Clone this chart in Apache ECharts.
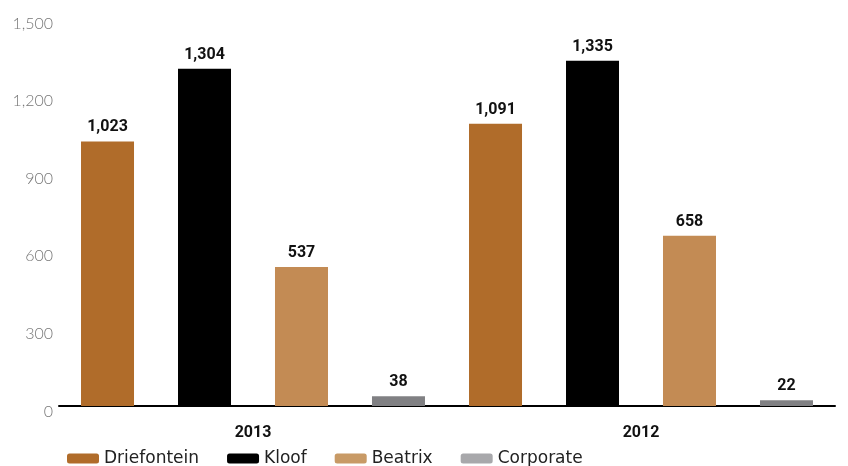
<!DOCTYPE html>
<html><head><meta charset="utf-8">
<script src="https://cdn.jsdelivr.net/npm/echarts@6/dist/echarts.min.js"></script>
<style>html,body{margin:0;padding:0;background:#fff}#c{width:848px;height:466px}</style>
</head><body><div id="c"></div>
<script>
const categories = ['2013', '2012'];
const seriesNames = ['Driefontein', 'Kloof', 'Beatrix', 'Corporate'];
const driefontein = [1023, 1091];
const kloof = [1304, 1335];
const beatrix = [537, 658];
const corporate = [38, 22];
const yTicks = [0, 300, 600, 900, 1200, 1500];

const colors = ['#B06C2A', '#000000', '#C38B54', '#808083'];
const legendColors = ['#B06C2A', '#000000', '#C89A66', '#A8A8AB'];
const values = [driefontein, kloof, beatrix, corporate];

const chart = echarts.init(document.getElementById('c'));
chart.setOption({
  animation: false,
  grid: { left: 59, right: 13, top: 18, bottom: 60 },
  legend: {
    left: 67, top: 450, itemWidth: 32, itemHeight: 10, itemGap: 28, padding: 0,
    icon: 'roundRect',
    textStyle: { fontFamily: 'DejaVu Sans', fontSize: 17, color: '#222' },
    data: seriesNames.map((n, i) => ({ name: n, itemStyle: { color: legendColors[i] } }))
  },
  xAxis: {
    type: 'category', data: categories,
    axisLine: { lineStyle: { color: '#000', width: 2 } },
    axisTick: { show: false },
    axisLabel: { fontFamily: 'Roboto', fontWeight: 'bold', fontSize: 16, color: '#111', margin: 19 }
  },
  yAxis: {
    type: 'value', min: 0, max: 1500, interval: 300,
    splitLine: { show: false }, axisLine: { show: false }, axisTick: { show: false },
    axisLabel: {
      margin: 6,
      formatter: v => yTicks.includes(v) ? '{a|' + v.toLocaleString('en-US') + '}' : '',
      rich: { a: { fontFamily: 'Lato', fontWeight: 300, fontSize: 16, color: '#777', padding: [11, 0, 0, 0] } }
    }
  },
  series: seriesNames.map((n, i) => ({
    name: n, type: 'bar', data: values[i], barWidth: 53, barGap: '83%', barCategoryGap: 44,
    itemStyle: { color: colors[i] },
    label: {
      show: true, position: 'top', distance: 6,
      fontFamily: 'Roboto', fontWeight: 'bold', fontSize: 16, color: '#111',
      formatter: p => p.value.toLocaleString('en-US')
    }
  }))
});
</script></body></html>
